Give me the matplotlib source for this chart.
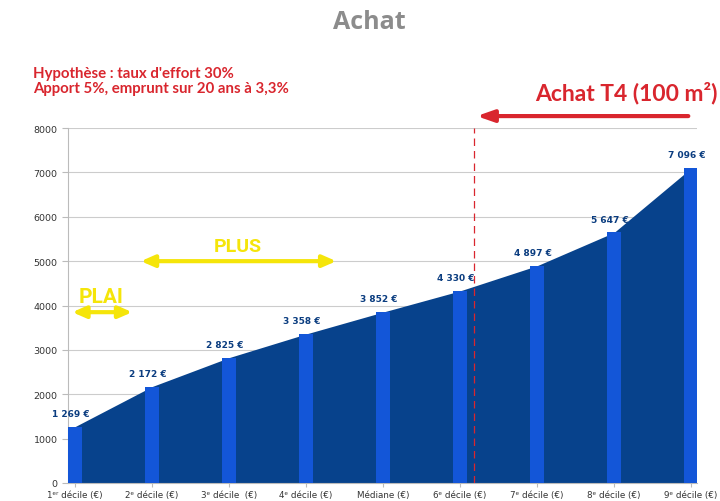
import matplotlib.pyplot as plt
import numpy as np

labels = ["1ᵉʳ décile (€)", "2ᵉ décile (€)", "3ᵉ décile  (€)", "4ᵉ décile (€)",
          "Médiane (€)", "6ᵉ décile (€)", "7ᵉ décile (€)", "8ᵉ décile (€)", "9ᵉ décile (€)"]
values = [1269, 2172, 2825, 3358, 3852, 4330, 4897, 5647, 7096]
value_labels = ["1 269 €", "2 172 €", "2 825 €", "3 358 €", "3 852 €",
                "4 330 €", "4 897 €", "5 647 €", "7 096 €"]

dark = "#07428c"
bright = "#1356d8"
red = "#d9262e"
yellow = "#f5e50a"

fig = plt.figure(figsize=(7.2, 5.02), dpi=100)
ax = fig.add_axes([0.0944, 0.0359, 0.874, 0.707])

x = np.arange(len(values))
ax.fill_between(x, values, 0, color=dark, zorder=2, lw=0)
ax.bar(x, values, width=0.18, color=bright, zorder=3)
for xi, v, s in zip(x, values, value_labels):
    ax.text(xi - 0.05, v + 200, s, ha="center", va="bottom", fontsize=6.5,
            color="#0b3d80", fontweight="bold", zorder=4)

ax.set_xlim(-0.09, 8.08)
ax.set_ylim(0, 8000)
ax.set_yticks(range(0, 8001, 1000))
ax.set_xticks(x)
ax.set_xticklabels(labels, fontsize=6.3, color="#333333")
ax.tick_params(axis="y", labelsize=6.8, colors="#bbbbbb", length=4, labelcolor="#333333")
ax.tick_params(axis="x", length=3, colors="#bbbbbb", labelcolor="#333333", pad=2)
ax.grid(axis="y", color="#cccccc", lw=0.8, zorder=0)
for side in ["top", "right"]:
    ax.spines[side].set_visible(False)
ax.spines["left"].set_color("#bbbbbb")
ax.spines["bottom"].set_color("#bbbbbb")

# 6e décile marker
ax.axvline(5.18, color=red, ls=(0, (6, 4)), lw=0.9, zorder=5)
ax.annotate("", xy=(5.18, 8270), xytext=(8.0, 8270), annotation_clip=False,
            arrowprops=dict(arrowstyle="-|>,head_length=1.0,head_width=0.35", color=red, lw=3))
fig.text(0.997, 0.8, "Achat T4 (100 m²)", color=red, fontsize=16.5, fontweight="bold",
         ha="right", family="Lato")

# PLAI / PLUS
ax.annotate("", xy=(-0.07, 3850), xytext=(0.78, 3850),
            arrowprops=dict(arrowstyle="<|-|>,head_length=0.8,head_width=0.35", color=yellow, lw=3), zorder=6)
ax.text(0.34, 4000, "PLAI", color=yellow, fontsize=15, fontweight="bold", ha="center", va="bottom",
        family="Roboto", fontstretch="condensed")
ax.annotate("", xy=(0.82, 5000), xytext=(3.43, 5000),
            arrowprops=dict(arrowstyle="<|-|>,head_length=0.8,head_width=0.35", color=yellow, lw=3), zorder=6)
ax.text(2.12, 5150, "PLUS", color=yellow, fontsize=14, fontweight="bold", ha="center", va="bottom",
        family="Roboto", fontstretch="condensed")

fig.text(0.513, 0.955, "Achat", color="#8c8c8c", fontsize=18, fontweight="bold", ha="center",
         va="center", family="Open Sans")
fig.text(0.046, 0.838, "Hypothèse : taux d'effort 30%\nApport 5%, emprunt sur 20 ans à 3,3%",
         color=red, fontsize=10.8, fontweight="bold", ha="left", va="center", linespacing=1.1,
         family="Lato")

fig.savefig("out.png", dpi=100)
